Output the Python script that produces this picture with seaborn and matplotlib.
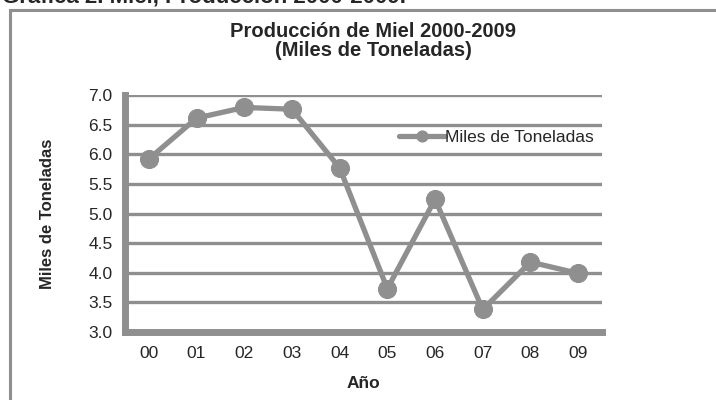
import matplotlib
matplotlib.use('Agg')
import matplotlib.pyplot as plt
import numpy as np
import pandas as pd
import seaborn as sns
from matplotlib.patches import Rectangle

# Data
anos = ['00', '01', '02', '03', '04', '05', '06', '07', '08', '09']
miles_toneladas = [5.92, 6.61, 6.79, 6.76, 5.77, 3.73, 5.24, 3.38, 4.18, 3.99]

df = pd.DataFrame({'pos': np.arange(len(anos)), 'Miles de Toneladas': miles_toneladas})

sns.set_style('white')
plt.rcParams['font.family'] = ['Liberation Sans', 'DejaVu Sans']

gris = '#8f8f8f'

fig = plt.figure(figsize=(7.16, 4.0), dpi=100)
ax = fig.add_axes([125 / 716, 1 - 332 / 400, 477 / 716, 237 / 400])

# outer chart border (cut by the image edges)
fig.patches.append(Rectangle((10 / 716, -0.1), 1.2, 1 - 10 / 400 + 0.1, transform=fig.transFigure,
                             fill=False, edgecolor=gris, linewidth=2.2))

# caption above the chart, partially cut off at the top edge
fig.text(2 / 716, 1 - 3 / 400, 'Gráfica 2. Miel, Producción 2000-2009.', fontsize=16, fontweight='bold',
         va='baseline', ha='left')

sns.lineplot(data=df, x='pos', y='Miles de Toneladas', ax=ax, color=gris, linewidth=3.8,
             marker='o', markersize=13, markeredgecolor=gris, label='Miles de Toneladas', zorder=3)

ax.set_xlim(-0.5, len(anos) - 0.5)
ax.set_ylim(3.0, 7.0)
ax.set_yticks(np.arange(3.0, 7.01, 0.5))
ax.set_yticklabels([f'{v:.1f}' for v in np.arange(3.0, 7.01, 0.5)], fontsize=12.5)
ax.set_xticks(np.arange(-0.5, len(anos), 1.0))
ax.set_xticklabels([])
ax.set_xticks(np.arange(len(anos)), minor=True)
ax.set_xticklabels(anos, minor=True, fontsize=12.5)
ax.tick_params(axis='x', which='major', length=4, width=4, color=gris, direction='out')
ax.tick_params(axis='x', which='minor', length=0, pad=10)
ax.tick_params(axis='y', length=3, width=4, color=gris, direction='out', pad=6)

ax.yaxis.grid(True, color=gris, linewidth=2.4)
ax.set_axisbelow(True)
for s in ['top', 'right']:
    ax.spines[s].set_visible(False)
for s in ['left', 'bottom']:
    ax.spines[s].set_color(gris)
    ax.spines[s].set_linewidth(5)

ax.set_xlabel('Año', fontsize=12.5, fontweight='bold', labelpad=11)
ax.set_ylabel('Miles de Toneladas', fontsize=12, fontweight='bold', labelpad=24)
ax.set_title('Producción de Miel 2000-2009\n(Miles de Toneladas)', fontsize=14.5, fontweight='bold',
             pad=28, linespacing=1.0, x=0.52)

leg = ax.legend(loc='center right', bbox_to_anchor=(1.0, 0.82), frameon=False, fontsize=12.5,
                handlelength=2.6, handletextpad=0.0, borderaxespad=0.1)
for h in leg.legend_handles:
    h.set_markersize(8)

fig.savefig('out.png', dpi=100)
